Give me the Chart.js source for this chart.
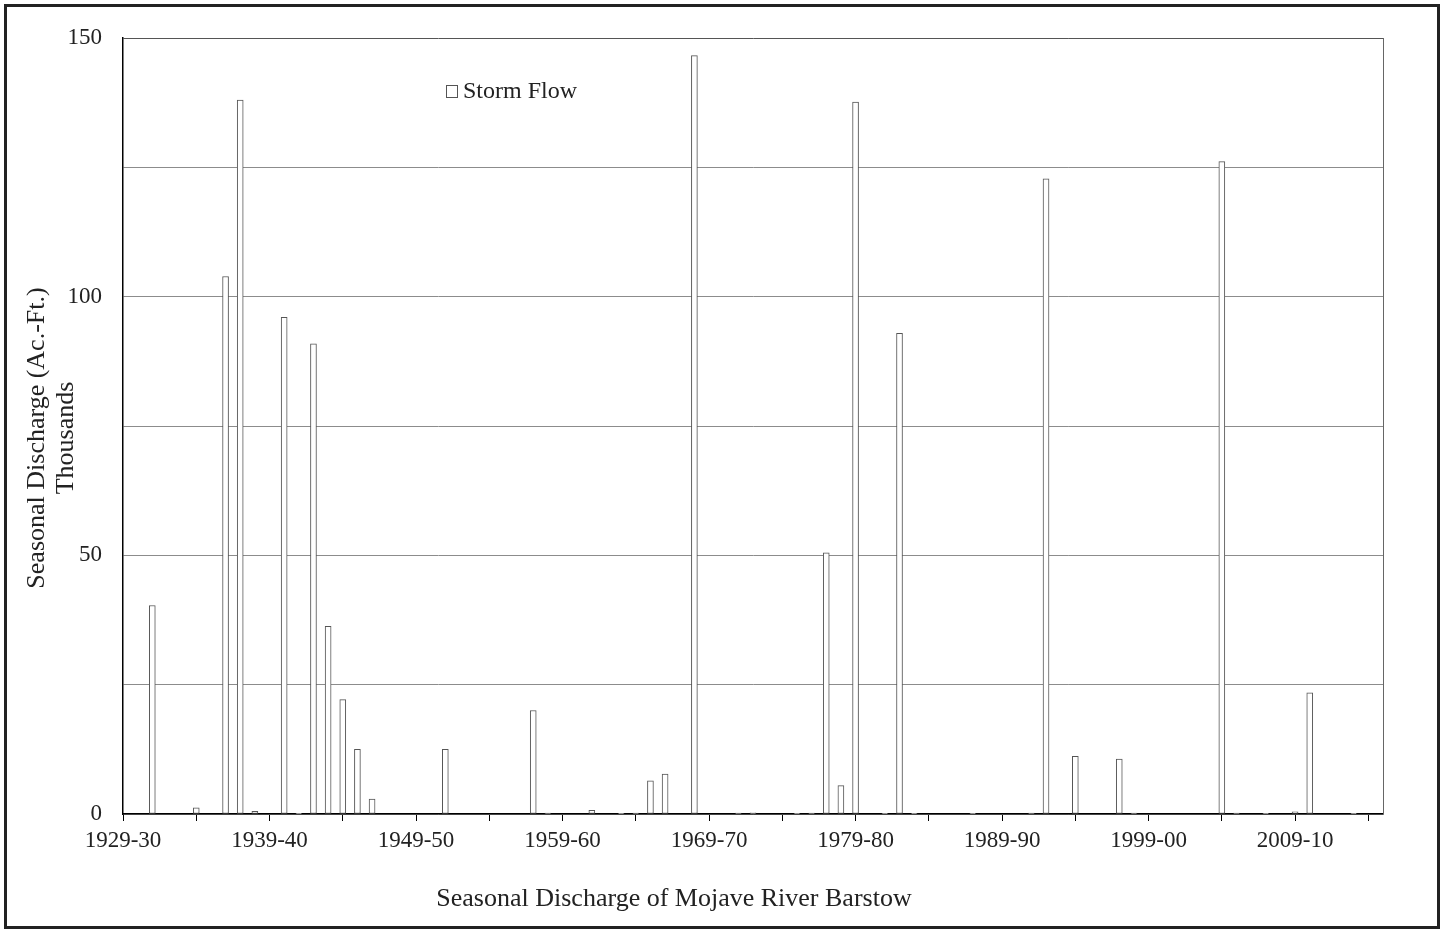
<!DOCTYPE html>
<html>
<head>
<meta charset="utf-8">
<script src="https://cdn.jsdelivr.net/npm/chart.js@4.4.1/dist/chart.umd.min.js"></script>
<style>
  html, body { margin: 0; padding: 0; background: #fff; }
  #wrap { width: 1444px; height: 930px; position: relative; }
</style>
</head>
<body>
<div id="wrap"><canvas id="chart"></canvas></div>
<script>
// seasons 1929-30 .. 2015-16
const FIRST_YEAR = 1929;
const SEASON_COUNT = 87;
const seasons = [];
for (let y = FIRST_YEAR; y < FIRST_YEAR + SEASON_COUNT; y += 1) {
  seasons.push(y + "-" + String((y + 1) % 100).padStart(2, "0"));
}

// storm flow, thousands of acre-feet (null = no bar)
const stormFlow = [
  null, null, 40.3, null, null, 1.2, null, 103.9, 138.0, 0.5,
  null, 96.0, 0.15, 90.9, 36.3, 22.1, 12.5, 2.9, null, null,
  null, null, 12.5, null, null, null, null, null, 20.0, 0.2,
  null, null, 0.7, null, 0.15, 0.2, 6.4, 7.7, null, 146.6,
  null, null, 0.2, 0.25, null, null, 0.15, 0.2, 50.5, 5.5,
  137.6, null, 0.15, 92.9, 0.15, null, null, null, 0.15, null,
  null, null, 0.2, 122.8, null, 11.15, null, null, 10.6, 0.2,
  null, null, null, null, null, 126.1, 0.2, null, 0.15, null,
  0.4, 23.4, null, null, 0.15, null, null,
];

const yTicks = [0, 50, 100, 150];
const seriesLabel = "Storm Flow";
const yTitle = ["Seasonal Discharge (Ac.-Ft.)", "Thousands"];
const xTitle = "Seasonal Discharge of Mojave River Barstow";

const SERIF = '"Liberation Serif", "Times New Roman", serif';
const BAR_EDGE = "#555";

const framePlugin = {
  id: "frame",
  afterDraw(chart) {
    const { ctx, chartArea: a, width, height } = chart;
    ctx.save();

    // right edge of plot area
    ctx.strokeStyle = "#666";
    ctx.lineWidth = 1;
    ctx.beginPath();
    ctx.moveTo(a.right + 0.5, a.top);
    ctx.lineTo(a.right + 0.5, a.bottom);
    ctx.stroke();

    // outer frame
    ctx.strokeStyle = "#222";
    ctx.lineWidth = 3;
    ctx.strokeRect(5.5, 5.5, width - 11, height - 8);

    // legend inside the plot
    const lx = a.left + 323;
    const ly = a.top + 47;
    ctx.fillStyle = "#fff";
    ctx.fillRect(lx, ly, 11, 12);
    ctx.strokeStyle = BAR_EDGE;
    ctx.lineWidth = 1;
    ctx.strokeRect(lx + 0.5, ly + 0.5, 11, 12);
    ctx.fillStyle = "#222";
    ctx.font = "24px " + SERIF;
    ctx.textAlign = "left";
    ctx.textBaseline = "alphabetic";
    ctx.fillText(chart.data.datasets[0].label, lx + 17, ly + 13);

    // axis titles
    ctx.font = "26px " + SERIF;
    ctx.textAlign = "center";
    ctx.textBaseline = "middle";
    yTitle.forEach((line, i) => {
      ctx.save();
      ctx.translate(37 + i * 29, a.top + 400);
      ctx.rotate(-Math.PI / 2);
      ctx.fillText(line, 0, 0);
      ctx.restore();
    });
    ctx.textBaseline = "alphabetic";
    ctx.fillText(xTitle, 674, 906);

    ctx.restore();
  },
};

new Chart(document.getElementById("chart"), {
  type: "bar",
  data: {
    labels: seasons,
    datasets: [{
      label: seriesLabel,
      data: stormFlow,
      backgroundColor: "#fff",
      borderColor: BAR_EDGE,
      borderWidth: 1,
      borderSkipped: false,
      barThickness: 6,
    }],
  },
  options: {
    responsive: true,
    maintainAspectRatio: false,
    animation: false,
    layout: { padding: { left: 0, right: 61, top: 38, bottom: 0 } },
    plugins: {
      legend: { display: false },
      tooltip: { enabled: false },
    },
    scales: {
      x: {
        offset: false,
        afterFit: (scale) => { scale.height = 116; },
        border: { color: "#000", width: 1.5 },
        grid: {
          offset: false,
          drawOnChartArea: false,
          tickLength: 7,
          tickColor: (c) => (c.index % 5 === 0 ? "#000" : "rgba(0,0,0,0)"),
        },
        ticks: {
          autoSkip: false,
          maxRotation: 0,
          padding: 6,
          color: "#222",
          font: { family: SERIF, size: 23 },
          callback: (v, i) => (i % 10 === 0 ? seasons[i] : ""),
        },
      },
      y: {
        min: 0,
        max: 150,
        afterFit: (scale) => { scale.width = 123; },
        border: { color: "#000", width: 1.5 },
        grid: {
          drawTicks: false,
          color: (c) => (c.tick && c.tick.value === 150 ? "#555" : "#8c8c8c"),
        },
        ticks: {
          stepSize: 25,
          padding: 21,
          color: "#222",
          font: { family: SERIF, size: 23 },
          callback: (v) => (yTicks.includes(v) ? v : ""),
        },
      },
    },
  },
  plugins: [framePlugin],
});
</script>
</body>
</html>
